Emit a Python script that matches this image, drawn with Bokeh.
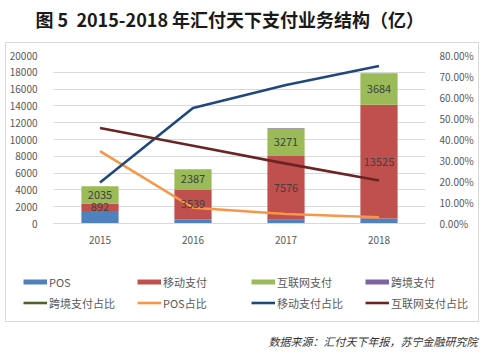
from bokeh.plotting import figure
from bokeh.layouts import column
from bokeh.models import (Range1d, LinearAxis, NumeralTickFormatter, FactorRange,
                          ColumnDataSource, Legend, LegendItem, Label, FixedTicker)
from bokeh.core.properties import value
from bokeh.embed import file_html
from bokeh.resources import INLINE

# ---------------- data ----------------
years = ["2015", "2016", "2017", "2018"]
pos = [1500, 520, 450, 600]
mobile = [892, 3539, 7576, 13525]
internet = [2035, 2387, 3271, 3684]
cross = [10, 20, 60, 50]

pos_share = [0.345, 0.075, 0.045, 0.030]
mobile_share = [0.195, 0.550, 0.660, 0.750]
internet_share = [0.455, 0.370, 0.285, 0.205]
cross_share = [float("nan")] * 4  # not visible in the reference

left_ticks = [0, 2000, 4000, 6000, 8000, 10000, 12000, 14000, 16000, 18000, 20000]
right_ticks = [0.0, 0.1, 0.2, 0.3, 0.4, 0.5, 0.6, 0.7, 0.8]

title_text = "图 5\u00a0\u00a02015-2018 年汇付天下支付业务结构（亿）"
source_text = "数据来源：汇付天下年报，苏宁金融研究院"

# ---------------- styles ----------------
C_POS, C_MOB, C_NET, C_CRS = "#4F81BD", "#C0504D", "#9BBB59", "#8064A2"
L_CRS, L_POS, L_MOB, L_NET = "#4F6228", "#F79646", "#1F497D", "#6B2424"
FONT = "Noto Sans CJK SC"
GRID = "#D9D9D9"
TXT = "#595959"
NAN = float("nan")


def blank_fig(w, h, xr, yr):
    f = figure(width=w, height=h, x_range=Range1d(0, xr), y_range=Range1d(0, yr),
               x_axis_type=None, y_axis_type=None,
               output_backend="svg", toolbar_location=None,
               min_border_left=0, min_border_right=0, min_border_top=0, min_border_bottom=0)
    f.grid.visible = False
    f.outline_line_color = None
    f.frame_align = False
    return f


# ---------------- title strip ----------------
figT = blank_fig(483, 42, 483, 42)
figT.add_layout(Label(x=35, y=24, text=title_text, text_font=FONT, text_font_size="18px",
                      text_font_style="bold", text_color="#1a1a1a",
                      text_baseline="middle", text_align="left"))

# ---------------- chart ----------------
src = ColumnDataSource(dict(year=years, pos=pos, mobile=mobile, internet=internet,
                            cross=cross, pos_share=pos_share, mobile_share=mobile_share,
                            internet_share=internet_share, cross_share=cross_share))

p = figure(width=472, height=207, x_range=FactorRange(*years), y_range=Range1d(0, 20000),
           output_backend="svg", toolbar_location=None,
           min_border_left=44, min_border_right=53, min_border_top=12, min_border_bottom=27)
p.frame_align = False
p.outline_line_color = None
p.extra_y_ranges = {"pct": Range1d(0, 0.8)}

p.vbar_stack(["pos", "mobile", "internet", "cross"], x="year", width=0.4,
             fill_color=[C_POS, C_MOB, C_NET, C_CRS], line_color=None, source=src)

lw = 2.6
p.line("year", "cross_share", source=src, y_range_name="pct", line_color=L_CRS, line_width=lw)
p.line("year", "pos_share", source=src, y_range_name="pct", line_color=L_POS, line_width=lw)
p.line("year", "mobile_share", source=src, y_range_name="pct", line_color=L_MOB, line_width=lw)
p.line("year", "internet_share", source=src, y_range_name="pct", line_color=L_NET, line_width=lw)

mob_mid = [a + b / 2 for a, b in zip(pos, mobile)]
net_mid = [a + b + c / 2 for a, b, c in zip(pos, mobile, internet)]
lab_src = ColumnDataSource(dict(x=years + years, y=mob_mid + net_mid,
                                t=[str(v) for v in mobile] + [str(v) for v in internet]))
p.text("x", "y", text="t", source=lab_src, text_align="center", text_baseline="middle",
       text_font=value(FONT), text_font_size="11px", text_color="#404040")

p.xaxis.axis_line_color = GRID
p.xaxis.major_tick_line_color = None
p.xaxis.minor_tick_line_color = None
p.xaxis.major_label_text_font = FONT
p.xaxis.major_label_text_font_size = "10px"
p.xaxis.major_label_text_color = TXT
p.xaxis.major_label_standoff = 6

p.yaxis.ticker = FixedTicker(ticks=left_ticks)
p.yaxis.axis_line_color = None
p.yaxis.major_tick_line_color = None
p.yaxis.minor_tick_line_color = None
p.yaxis.major_label_text_font = FONT
p.yaxis.major_label_text_font_size = "10px"
p.yaxis.major_label_text_color = TXT
p.yaxis.major_label_standoff = 10

ax2 = LinearAxis(y_range_name="pct", ticker=FixedTicker(ticks=right_ticks),
                 formatter=NumeralTickFormatter(format="0.00%"))
ax2.axis_line_color = None
ax2.major_tick_line_color = None
ax2.minor_tick_line_color = None
ax2.major_label_text_font = FONT
ax2.major_label_text_font_size = "10px"
ax2.major_label_text_color = TXT
ax2.major_label_standoff = 8
p.add_layout(ax2, "right")

p.xgrid.grid_line_color = None
p.ygrid.grid_line_color = GRID
p.ygrid.ticker = FixedTicker(ticks=left_ticks)

# ---------------- legend strip ----------------
figL = blank_fig(472, 71, 472, 71)
proxy = [figL.line(x=[NAN], y=[NAN], line_color=c, line_width=5)
         for c in [C_POS, C_MOB, C_NET, C_CRS]]
lp = [figL.line(x=[NAN], y=[NAN], line_color=c, line_width=lw)
      for c in [L_CRS, L_POS, L_MOB, L_NET]]
items = [
    LegendItem(label="POS", renderers=[proxy[0]]),
    LegendItem(label="移动支付", renderers=[proxy[1]]),
    LegendItem(label="互联网支付", renderers=[proxy[2]]),
    LegendItem(label="跨境支付", renderers=[proxy[3]]),
    LegendItem(label="跨境支付占比", renderers=[lp[0]]),
    LegendItem(label="POS占比", renderers=[lp[1]]),
    LegendItem(label="移动支付占比", renderers=[lp[2]]),
    LegendItem(label="互联网支付占比", renderers=[lp[3]]),
]
legend = Legend(items=items, orientation="horizontal", nrows=2,
                location=(17, 8), padding=0, margin=0, spacing=0,
                glyph_width=24, glyph_height=21, label_height=21, label_width=88,
                label_standoff=2, label_text_font=FONT, label_text_font_size="11px",
                label_text_color=TXT, border_line_color=None, background_fill_alpha=0)
figL.add_layout(legend, "center")

box = column(p, figL, styles={"border": "1px solid #D9D9D9"}, margin=(0, 0, 0, 5))

# ---------------- source strip ----------------
figS = blank_fig(483, 32, 483, 32)
figS.add_layout(Label(x=477, y=14, text=source_text, text_font=FONT, text_font_size="11px",
                      text_font_style="italic", text_color="#333333",
                      text_baseline="middle", text_align="right"))

root = column(figT, box, figS)
open("out.html", "w").write(file_html(root, INLINE))
